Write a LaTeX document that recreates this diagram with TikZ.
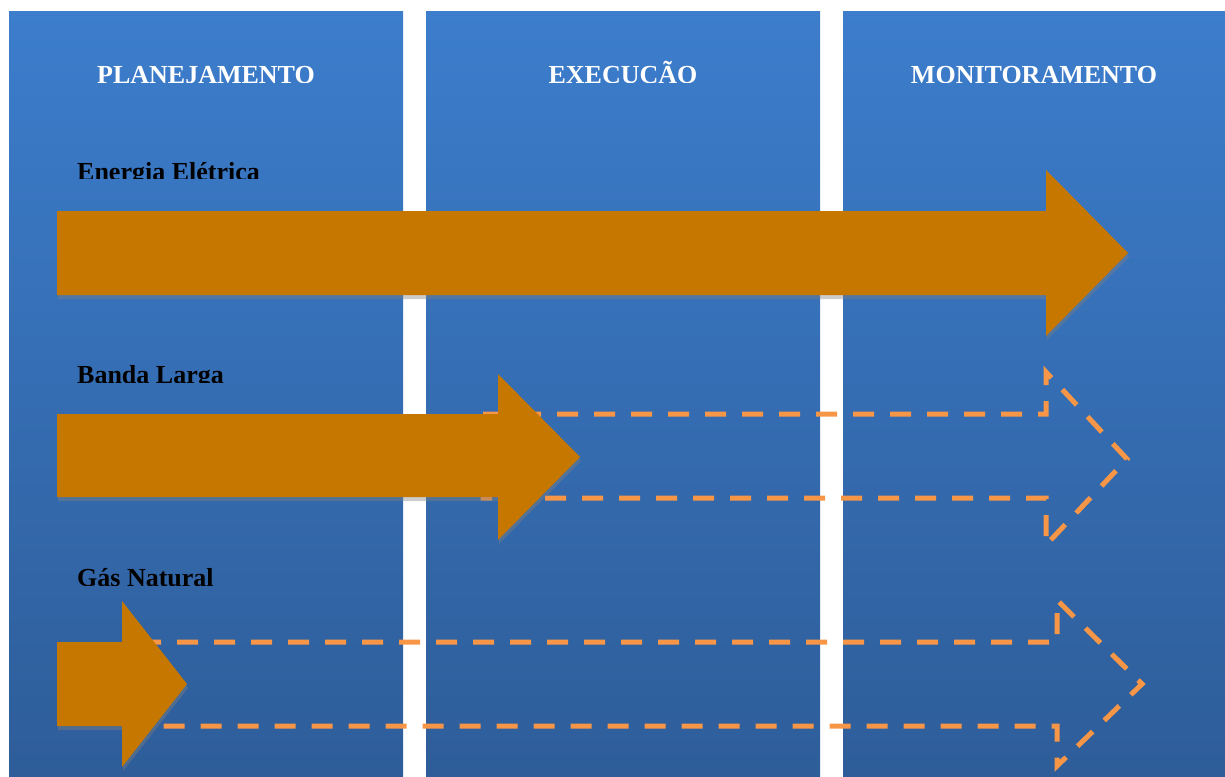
\documentclass[tikz,border=0pt]{standalone}
\usepackage{fontspec}
\setmainfont{Liberation Serif}
\definecolor{colTop}{RGB}{60,125,204}
\definecolor{colBot}{RGB}{46,93,153}
\definecolor{arrowOrange}{RGB}{198,119,0}
\definecolor{dashOrange}{RGB}{247,150,70}
\tikzset{
  column/.style={top color=colTop,bottom color=colBot,draw=none},
  solidarrow/.style={fill=arrowOrange,draw=none},
  arrowshadow/.style={fill=gray,fill opacity=0.4,draw=none},
  dasharrow/.style={draw=dashOrange,line width=5pt,dash pattern=on 21pt off 16pt,miter limit=10},
  header/.style={text=white,font=\fontsize{26}{30}\selectfont\bfseries,anchor=base,inner sep=0pt},
  rowlabel/.style={text=black,font=\fontsize{26}{30}\selectfont\bfseries,anchor=base west,inner sep=0pt}
}
\begin{document}
\begin{tikzpicture}[x=1pt,y=-1pt]
\useasboundingbox (0,0) rectangle (1225,776);
% columns
\shade[column] (9,12) rectangle (403,776);
\shade[column] (426,12) rectangle (820,776);
\shade[column] (843,12) rectangle (1225,776);
% dashed outlines (planned)
\draw[dasharrow] (483,414) -- (1046,414) -- (1046,372) -- (1127,459) -- (1046,545) -- (1046,498) -- (483,498) -- cycle;
\draw[dasharrow] (140,642) -- (1057,642) -- (1057,600) -- (1142,684) -- (1057,766) -- (1057,726) -- (140,726) -- cycle;
% shadows
\fill[arrowshadow,shift={(1,4)}] (57,211) -- (1046,211) -- (1046,170) -- (1128,253) -- (1046,336) -- (1046,295) -- (57,295) -- cycle;
\fill[arrowshadow,shift={(1,4)}] (57,414) -- (498,414) -- (498,374) -- (580,457) -- (498,540) -- (498,497) -- (57,497) -- cycle;
\fill[arrowshadow,shift={(1,4)}] (57,642) -- (122,642) -- (122,601) -- (187,684) -- (122,767) -- (122,726) -- (57,726) -- cycle;
% solid arrows (done)
\fill[solidarrow] (57,211) -- (1046,211) -- (1046,170) -- (1128,253) -- (1046,336) -- (1046,295) -- (57,295) -- cycle;
\fill[solidarrow] (57,414) -- (498,414) -- (498,374) -- (580,457) -- (498,540) -- (498,497) -- (57,497) -- cycle;
\fill[solidarrow] (57,642) -- (122,642) -- (122,601) -- (187,684) -- (122,767) -- (122,726) -- (57,726) -- cycle;
% headers
\begin{scope}
\clip (0,0) rectangle (1225,82);
\node[header] (h1) at (206,83) {PLANEJAMENTO};
\node[header] (h2) at (623,83) {EXECUÇÃO};
\node[header] (h3) at (1034,83) {MONITORAMENTO};
\end{scope}
% row labels
\begin{scope}
\clip (0,0) rectangle (1225,178);
\node[rowlabel] (l1) at (77,180) {Energia Elétrica};
\end{scope}
\begin{scope}
\clip (0,300) rectangle (1225,382);
\node[rowlabel] (l2) at (77,383) {Banda Larga};
\end{scope}
\begin{scope}
\clip (0,500) rectangle (1225,585);
\node[rowlabel] (l3) at (77,586) {Gás Natural};
\end{scope}
\end{tikzpicture}
\end{document}
